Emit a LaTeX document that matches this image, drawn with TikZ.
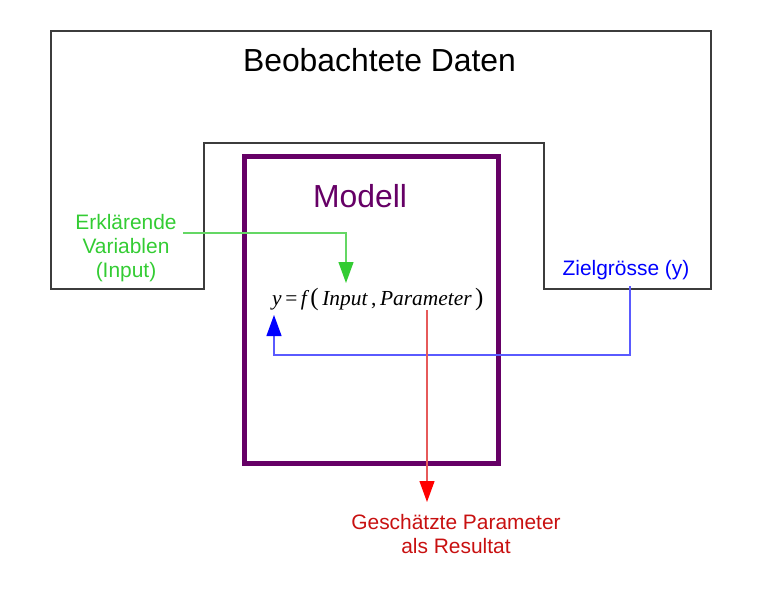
\documentclass[tikz,border=0pt]{standalone}
\usepackage{fontspec}
\setmainfont{Liberation Sans}
\newfontfamily\formfont{Liberation Serif}
\usetikzlibrary{arrows.meta}
\definecolor{dpurple}{RGB}{102,0,102}
\definecolor{tgreen}{RGB}{51,204,51}
\definecolor{lgreen}{RGB}{100,215,100}
\definecolor{tblue}{RGB}{0,0,255}
\definecolor{lblue}{RGB}{90,90,255}
\definecolor{tred}{RGB}{200,16,16}
\definecolor{lred}{RGB}{230,90,90}
\definecolor{hred}{RGB}{255,0,0}
\definecolor{frame}{RGB}{60,60,60}
\tikzset{
  lbl/.style={inner sep=0pt, anchor=base, align=center},
  big/.style={font=\fontsize{32}{36}\selectfont},
  small/.style={font=\fontsize{21}{24}\selectfont},
  conn/.style={line width=1.2bp},
  tip/.style={-{Triangle[width=15bp,length=21bp,color=#1]}},
}
\begin{document}
\begin{tikzpicture}[x=1bp,y=-1bp]
\useasboundingbox (0,0) rectangle (762,609);
% observed data frame
\draw[frame, line width=1.2bp] (51,31) -- (711,31) -- (711,289) -- (544,289) -- (544,143) -- (204,143) -- (204,289) -- (51,289) -- cycle;
% model box
\node[draw=dpurple, line width=5bp, minimum width=254bp, minimum height=306bp, inner sep=0pt] (model) at (371,310) {};
% labels
\node[lbl, big] (daten) at (379.5,72) {Beobachtete Daten};
\node[lbl, big, text=dpurple] (modell) at (360,208) {Modell};
\node[lbl, small, text=tgreen] (input) at (126,277) {Erklärende\\Variablen\\(Input)};
\node[lbl, small, text=tblue] (ziel) at (626,275) {Zielgrösse (y)};
\node[lbl, small, text=tred] (result) at (456,553) {Geschätzte Parameter\\als Resultat};
\node[inner sep=0pt, anchor=base west, font=\formfont\fontsize{21.5}{24}\selectfont] (formel) at (272,305)
  {\itshape y\upshape\,=\,\itshape f\upshape\,{\fontsize{25}{25}\selectfont(}\,\itshape Input\upshape\,,\,\itshape Parameter\upshape\,{\fontsize{25}{25}\selectfont)}};
% connector coordinates
\coordinate (gA) at (183,233);
\coordinate (gB) at (346,233);
\coordinate (gC) at (346,283);
\coordinate (bA) at (630,286);
\coordinate (bB) at (630,355);
\coordinate (bC) at (274,355);
\coordinate (bD) at (274,315);
\coordinate (rA) at (427,310);
\coordinate (rB) at (427,502);
% connectors
\draw[conn, lgreen, tip=tgreen] (gA) -- (gB) -- (gC);
\draw[conn, lblue, tip=tblue] (bA) -- (bB) -- (bC) -- (bD);
\draw[conn, lred, tip=hred] (rA) -- (rB);
\end{tikzpicture}
\end{document}
